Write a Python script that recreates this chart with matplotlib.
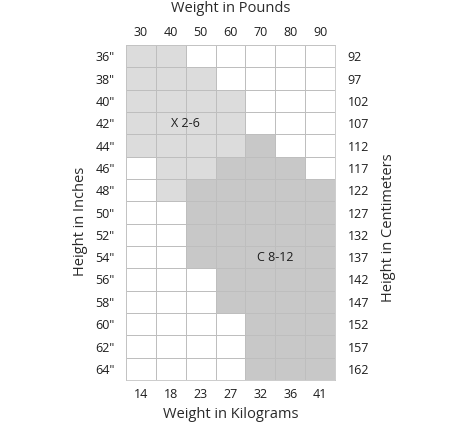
import numpy as np
import matplotlib
matplotlib.use("Agg")
import matplotlib.pyplot as plt
from matplotlib.colors import ListedColormap

pounds = ["30", "40", "50", "60", "70", "80", "90"]
kilos = ["14", "18", "23", "27", "32", "36", "41"]
inches = ['36"', '38"', '40"', '42"', '44"', '46"', '48"', '50"',
          '52"', '54"', '56"', '58"', '60"', '62"', '64"']
centimeters = ["92", "97", "102", "107", "112", "117", "122", "127",
               "132", "137", "142", "147", "152", "157", "162"]

# 0 = no size, 1 = X 2-6, 2 = C 8-12  (rows = inches, cols = pounds)
size_grid = [
    [1, 1, 0, 0, 0, 0, 0],
    [1, 1, 1, 0, 0, 0, 0],
    [1, 1, 1, 1, 0, 0, 0],
    [1, 1, 1, 1, 0, 0, 0],
    [1, 1, 1, 1, 2, 0, 0],
    [0, 1, 1, 2, 2, 2, 0],
    [0, 1, 2, 2, 2, 2, 2],
    [0, 0, 2, 2, 2, 2, 2],
    [0, 0, 2, 2, 2, 2, 2],
    [0, 0, 2, 2, 2, 2, 2],
    [0, 0, 0, 2, 2, 2, 2],
    [0, 0, 0, 2, 2, 2, 2],
    [0, 0, 0, 0, 2, 2, 2],
    [0, 0, 0, 0, 2, 2, 2],
    [0, 0, 0, 0, 2, 2, 2],
]
size_labels = [("X 2-6", 1.5, 3), ("C 8-12", 4.5, 9)]

plt.rcParams['font.family'] = ['Open Sans', 'DejaVu Sans']
W, H = 462, 446
fig = plt.figure(figsize=(W / 100, H / 100), dpi=100)
ax = fig.add_axes([126 / W, (H - 380) / H, 209 / W, 335 / H])

cmap = ListedColormap(["#ffffff", "#dcdcdc", "#c8c8c8"])
grid = np.array(size_grid)
ax.pcolormesh(np.arange(len(pounds) + 1) - 0.5, np.arange(len(inches) + 1) - 0.5,
              grid, cmap=cmap, vmin=0, vmax=2, edgecolors="#bebebe", linewidth=0.55)
ax.set_xlim(-0.5, len(pounds) - 0.5)
ax.set_ylim(len(inches) - 0.5, -0.5)
for s in ax.spines.values():
    s.set_color("#c4c4c4")
    s.set_linewidth(0.6)

tc = "#1e1e1e"
fs = 9
ax.set_xticks(range(len(pounds)))
ax.set_xticklabels(pounds)
ax.xaxis.tick_top()
ax.tick_params(axis="x", length=0, pad=4, labelsize=fs, colors=tc)
ax.set_yticks(range(len(inches)))
ax.set_yticklabels(inches)
ax.tick_params(axis="y", length=0, pad=8, labelsize=fs, colors=tc)

bx = ax.secondary_xaxis("bottom")
bx.set_xticks(range(len(kilos)))
bx.set_xticklabels(kilos)
bx.tick_params(length=0, pad=6, labelsize=fs, colors=tc)
bx.spines["bottom"].set_visible(False)

ry = ax.secondary_yaxis("right")
ry.set_yticks(range(len(centimeters)))
ry.set_yticklabels(centimeters)
ry.tick_params(length=0, pad=9, labelsize=fs, colors=tc)
ry.spines["right"].set_visible(False)

for txt, cx, cy in size_labels:
    ax.text(cx, cy, txt, ha="center", va="center", fontsize=fs, color=tc)

tfs = 10.5
tcol = "#2a2a2a"
fig.text(231 / W, 1 - 9 / H, "Weight in Pounds", ha="center", va="center",
         fontsize=tfs, color=tcol)
fig.text(231 / W, 1 - 414 / H, "Weight in Kilograms", ha="center", va="center",
         fontsize=tfs, color=tcol)
fig.text(81 / W, 1 - 221 / H, "Height in Inches", ha="center", va="center",
         rotation=90, fontsize=tfs, color=tcol)
fig.text(388 / W, 1 - 228 / H, "Height in Centimeters", ha="center", va="center",
         rotation=90, fontsize=tfs, color=tcol)

fig.savefig("out.png", dpi=100)
